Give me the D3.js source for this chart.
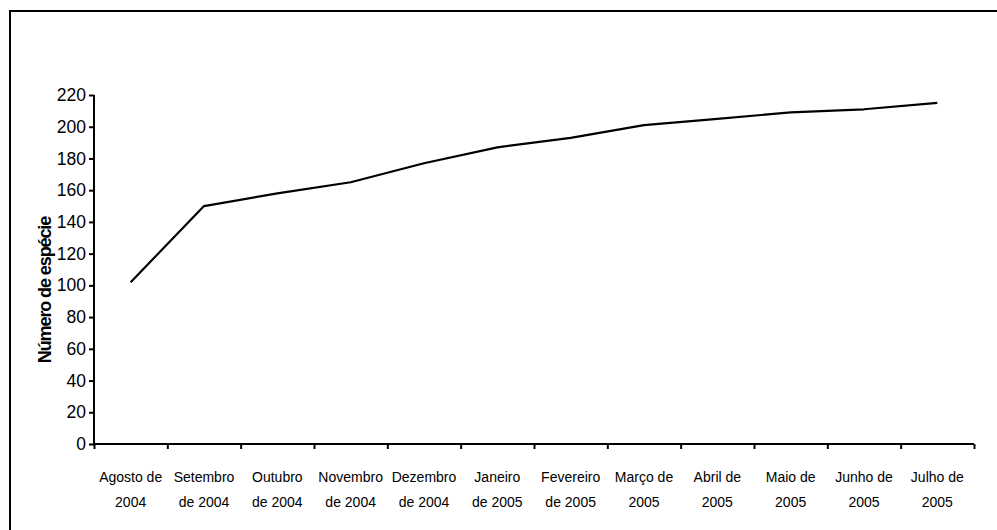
<!DOCTYPE html>
<html>
<head>
<meta charset="utf-8">
<script src="https://cdn.jsdelivr.net/npm/d3@7/dist/d3.min.js"></script>
<style>
  html, body { margin: 0; padding: 0; background: #fff; }
  svg { display: block; font-family: "Liberation Sans", Arial, sans-serif; }
</style>
</head>
<body>
<svg id="chart" width="997" height="530"></svg>
<script>
// Months (two-line labels) and cumulative species count
const monthLine1 = ["Agosto de", "Setembro", "Outubro", "Novembro", "Dezembro", "Janeiro",
                    "Fevereiro", "Março de", "Abril de", "Maio de", "Junho de", "Julho de"];
const monthLine2 = ["2004", "de 2004", "de 2004", "de 2004", "de 2004", "de 2005",
                    "de 2005", "2005", "2005", "2005", "2005", "2005"];
const species = [102, 150, 158, 165, 177, 187, 193, 201, 205, 209, 211, 215];
const yTicks = [0, 20, 40, 60, 80, 100, 120, 140, 160, 180, 200, 220];
const yTitle = "Número de espécie";

const svg = d3.select("#chart");
const plotLeft = 94, plotRight = 974, plotTop = 95, plotBottom = 444;

// Outer frame
svg.append("rect")
  .attr("x", 10).attr("y", 11)
  .attr("width", 1000).attr("height", 540)
  .attr("fill", "none").attr("stroke", "#000").attr("stroke-width", 2);

const months = monthLine1.map((d, i) => i);
const x = d3.scaleBand().domain(months).range([plotLeft, plotRight]).padding(0);
const xEdges = d3.scaleLinear().domain([0, months.length]).range([plotLeft, plotRight]);
const y = d3.scaleLinear().domain([0, 220]).range([plotBottom, plotTop]);

// Y axis
const yAxis = svg.append("g")
  .attr("transform", `translate(${plotLeft},0)`)
  .call(d3.axisLeft(y).tickValues(yTicks).tickSize(5).tickPadding(3).tickFormat(d3.format("d")));
yAxis.select(".domain").attr("d", `M0,${plotTop}V${plotBottom}`).attr("stroke-width", 2);
yAxis.selectAll(".tick line").attr("stroke-width", 2);
yAxis.selectAll(".tick text").attr("font-size", 17.5).attr("fill", "#000");

// X axis: ticks at category boundaries
const xAxis = svg.append("g")
  .attr("transform", `translate(0,${plotBottom})`)
  .call(d3.axisBottom(xEdges).ticks(months.length).tickSize(5).tickFormat(""));
xAxis.select(".domain").attr("d", `M${plotLeft},0H${plotRight}`).attr("stroke-width", 2);
xAxis.selectAll(".tick line").attr("stroke-width", 2);

// Two-line month labels
const labels = svg.append("g").attr("font-size", 14).attr("fill", "#000").attr("text-anchor", "middle");
months.forEach(i => {
  const cx = x(i) + x.bandwidth() / 2;
  labels.append("text").attr("x", cx).attr("y", 482).text(monthLine1[i]);
  labels.append("text").attr("x", cx).attr("y", 507).text(monthLine2[i]);
});

// Y title
svg.append("text")
  .attr("transform", `translate(51,290) rotate(-90)`)
  .attr("text-anchor", "middle")
  .attr("font-size", 18).attr("font-weight", "bold")
  .attr("letter-spacing", "-1.1")
  .text(yTitle);

// Species line
const line = d3.line()
  .x((d, i) => x(i) + x.bandwidth() / 2)
  .y(d => y(d));
svg.append("path")
  .datum(species)
  .attr("d", line)
  .attr("fill", "none").attr("stroke", "#000").attr("stroke-width", 2.2)
  .attr("stroke-linejoin", "round");
</script>
</body>
</html>
